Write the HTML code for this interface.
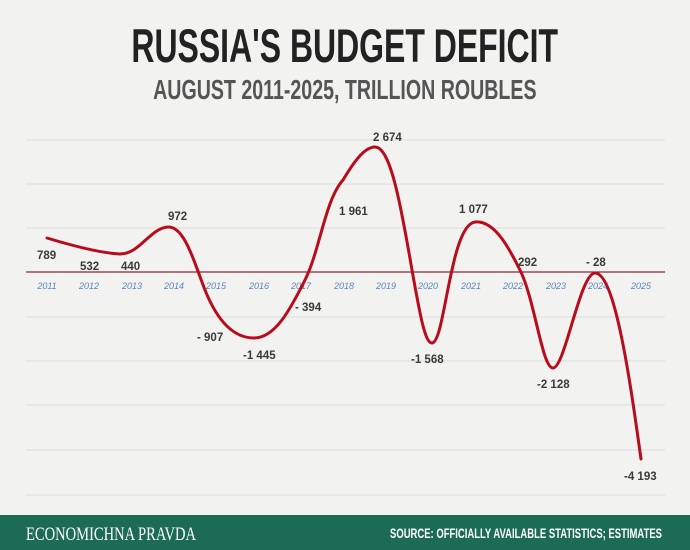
<!DOCTYPE html>
<html><head><style>
body{margin:0;width:690px;height:550px;background:#f2f2f0;overflow:hidden;font-family:"Liberation Sans",sans-serif}
.t{position:absolute;left:0;width:690px;text-align:center;}
</style></head><body>
<div class="t" style="top:18px;font-size:47px;font-weight:bold;color:#222;"><span style="display:inline-block;transform:scaleX(0.68);font-family:'Liberation Sans Narrow','Liberation Sans',sans-serif">RUSSIA'S BUDGET DEFICIT</span></div>
<div class="t" style="top:74px;font-size:28px;font-weight:bold;color:#555;"><span style="display:inline-block;transform:scaleX(0.70);font-family:'Liberation Sans Narrow','Liberation Sans',sans-serif">AUGUST 2011-2025, TRILLION ROUBLES</span></div>
<svg width="690" height="550" style="position:absolute;left:0;top:0">
<g stroke="#dcdcdc" stroke-width="1">
<line x1="26" x2="665" y1="140" y2="140"/><line x1="26" x2="665" y1="184" y2="184"/><line x1="26" x2="665" y1="228" y2="228"/>
<line x1="26" x2="665" y1="317" y2="317"/><line x1="26" x2="665" y1="361" y2="361"/><line x1="26" x2="665" y1="405" y2="405"/>
<line x1="26" x2="665" y1="450" y2="450"/><line x1="26" x2="665" y1="495" y2="495"/>
</g>
<line x1="26" x2="665" y1="272" y2="272" stroke="#8a2a3a" stroke-width="1.3"/>
<g font-size="9" font-style="italic" fill="#5b86c0" text-anchor="middle">
<text x="47" y="289">2011</text><text x="89" y="289">2012</text><text x="132" y="289">2013</text><text x="174" y="289">2014</text><text x="216" y="289">2015</text><text x="259" y="289">2016</text><text x="301" y="289">2017</text><text x="344" y="289">2018</text><text x="386" y="289">2019</text><text x="428" y="289">2020</text><text x="471" y="289">2021</text><text x="513" y="289">2022</text><text x="556" y="289">2023</text><text x="598" y="289">2024</text><text x="641" y="289">2025</text>
</g>
<path d="M47,238 C70,245 100,253 120,254 C140,254 150,228 168,227 C185,226 195,265 205,290 C215,315 230,338 254,338 C275,338 290,310 305,280 C320,250 325,200 343,180 C355,160 365,147 375,147 C390,147 400,200 412,270 C420,315 425,343 432,343 C445,343 450,225 475,222 C495,220 510,250 520,270 C535,300 542,368 553,368 C565,368 580,273 595,273 C615,273 630,380 641,459" fill="none" stroke="#b80c1c" stroke-width="3" stroke-linecap="round"/>
<g font-size="11.5" font-weight="bold" fill="#3a3a3a">
<text x="37" y="259">789</text><text x="80" y="270">532</text><text x="121" y="270">440</text><text x="168" y="220">972</text>
<text x="197" y="341">- 907</text><text x="243" y="359">-1 445</text><text x="295" y="311">- 394</text><text x="339" y="215">1 961</text>
<text x="373" y="141">2 674</text><text x="411" y="363">-1 568</text><text x="459" y="213">1 077</text><text x="518" y="266">292</text>
<text x="537" y="388">-2 128</text><text x="586" y="266">- 28</text><text x="624" y="480">-4 193</text>
</g>
<rect x="0" y="515" width="690" height="35" fill="#1b6b55"/>
<text x="26" y="540" font-family="Liberation Serif,serif" font-size="19" fill="#fff" textLength="170" lengthAdjust="spacingAndGlyphs">ECONOMICHNA PRAVDA</text>
<text x="390" y="538" font-size="14" font-weight="bold" fill="#fff" textLength="272" lengthAdjust="spacingAndGlyphs">SOURCE: OFFICIALLY AVAILABLE STATISTICS; ESTIMATES</text>
</svg>
</body></html>
